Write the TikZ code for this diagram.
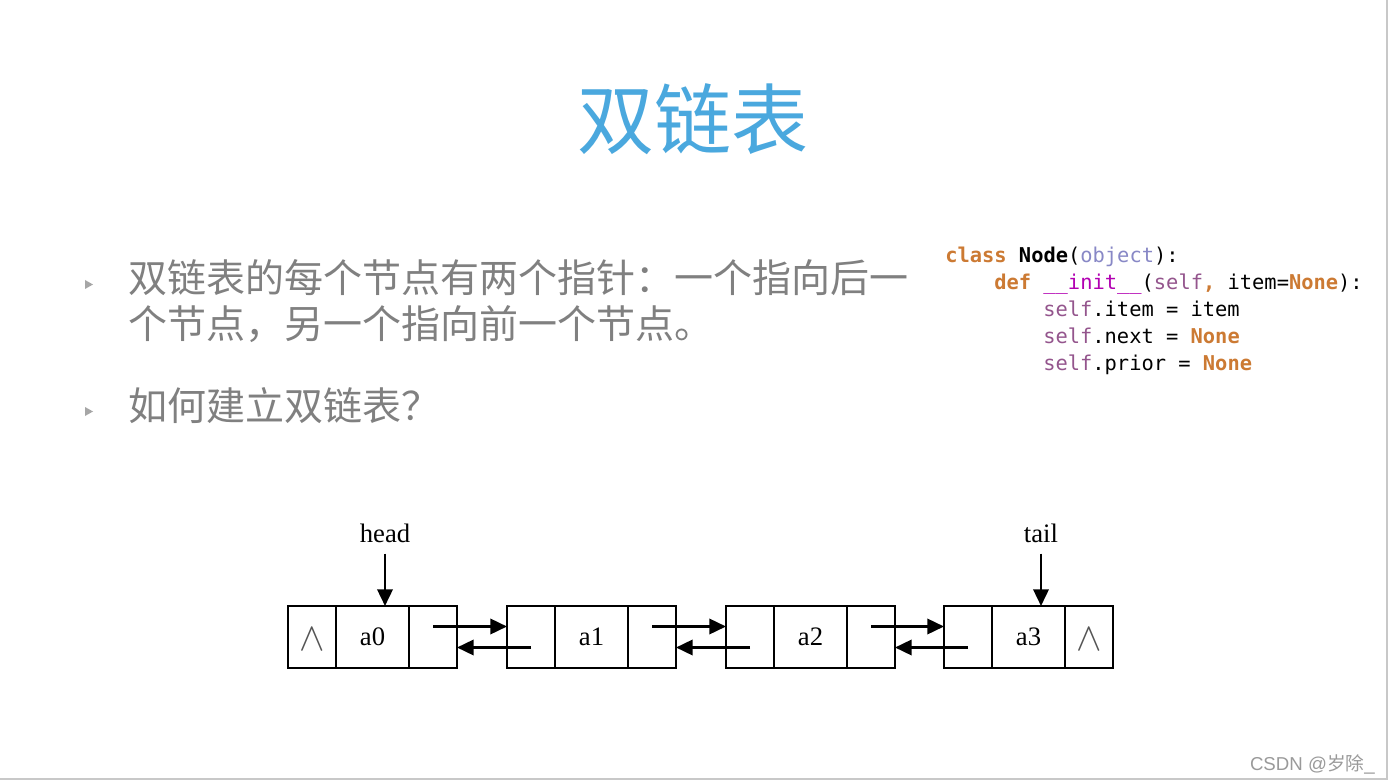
\documentclass[tikz,border=0pt]{standalone}
\usepackage{fontspec}
\usepackage{graphicx}
\setmainfont{Liberation Serif}
\newfontfamily\cjk{Noto Sans CJK SC}
\newfontfamily\codefont{DejaVu Sans Mono}
\newfontfamily\wmfont{Liberation Sans}
\usetikzlibrary{arrows.meta,calc}
\definecolor{titleblue}{HTML}{4AA8DE}
\definecolor{bodygray}{HTML}{808080}
\definecolor{kwc}{HTML}{CC7A33}
\definecolor{objc}{HTML}{8888C6}
\definecolor{magicc}{HTML}{B200B2}
\definecolor{selfc}{HTML}{94558D}
\definecolor{wmc}{HTML}{9A9A9A}
\definecolor{edgec}{HTML}{C8C8C8}
\definecolor{wedgec}{HTML}{555555}
\tikzset{
  cellbox/.style={draw, line width=1.9pt, inner sep=0pt, outer sep=0pt, minimum height=46.5pt, anchor=north west, font=\fontsize{20}{24}\selectfont},
  sidecell/.style={cellbox, minimum width=36pt},
  datacell/.style={cellbox, minimum width=54.75pt},
  ptr/.style={line width=1.9pt, -{Triangle[length=12.5pt,width=11.5pt]}},
  lbl/.style={inner sep=0pt, anchor=base, font=\fontsize{20}{24}\selectfont},
  bodytext/.style={inner sep=0pt, anchor=base west, text=bodygray, font=\cjk\fontsize{29.25}{35}\selectfont},
  codeline/.style={inner sep=0pt, anchor=base west, font=\codefont\fontsize{15.3}{18}\selectfont},
  wedgemark/.style={inner sep=0pt, text=wedgec, font=\fontsize{24}{28}\selectfont},
  bulletmark/.style={fill=bodygray!70},
}
\begin{document}
\begin{tikzpicture}[x=0.75pt,y=-0.75pt]
\useasboundingbox (0,0) rectangle (1388,780);
\fill[white] (0,0) rectangle (1388,780);
\draw[edgec, line width=1.5pt] (1386.5,0) -- (1386.5,778.5) -- (0,778.5);

% title
\node[inner sep=0pt, anchor=base, text=titleblue, font=\cjk\fontsize{57.75}{66}\selectfont] (title) at (693,149) {双链表};

% bullets
\fill[bulletmark] (85,280) -- (93,284.5) -- (85,289) -- cycle;
\fill[bulletmark] (85,407) -- (93,411.5) -- (85,416) -- cycle;
\node[bodytext] (b1a) at (128,293) {双链表的每个节点有两个指针：一个指向后一};
\node[bodytext] (b1b) at (128,339) {个节点，另一个指向前一个节点。};
\node[bodytext] (b2) at (128,421) {如何建立双链表？};

% code
\node[codeline] (c1) at (945,263) {\textcolor{kwc}{\bfseries class} \textbf{Node}(\textcolor{objc}{object}):};
\node[codeline] (c2) at (994,290) {\textcolor{kwc}{\bfseries def} \textcolor{magicc}{\_\_init\_\_}(\textcolor{selfc}{self}\textcolor{kwc}{\bfseries ,} item=\textcolor{kwc}{\bfseries None}):};
\node[codeline] (c3) at (1043,317) {\textcolor{selfc}{self}.item = item};
\node[codeline] (c4) at (1043,344) {\textcolor{selfc}{self}.next = \textcolor{kwc}{\bfseries None}};
\node[codeline] (c5) at (1043,371) {\textcolor{selfc}{self}.prior = \textcolor{kwc}{\bfseries None}};

% list nodes
\foreach \i/\x in {0/288,1/507,2/726,3/944}{
  \node[sidecell] (p\i) at (\x,606) {};
  \node[datacell] (d\i) at (\x+48,606) {a\i};
  \node[sidecell] (n\i) at (\x+121,606) {};
}
\node[wedgemark] (w0) at ($(p0.center)+(0,2)$) {\scalebox{1.15}[1.2]{$\wedge$}};
\node[wedgemark] (w3) at ($(n3.center)+(0,2)$) {\scalebox{1.15}[1.2]{$\wedge$}};

\foreach \i/\j in {0/1,1/2,2/3}{
  \draw[ptr] ($(n\i.center)+(0,-10.5)$) -- ($(p\j.west)+(0,-10.5)$);
  \draw[ptr] ($(p\j.center)+(0,10.5)$) -- ($(n\i.east)+(0,10.5)$);
}

% head / tail
\node[lbl] (head) at (385,542) {head};
\node[lbl] (tail) at (1041,542) {tail};
\draw[ptr] ($(head.south)+(0,11)$) -- (head.south |- d0.north);
\draw[ptr] ($(tail.south)+(0,11)$) -- (tail.south |- d3.north);

% watermark
\node[inner sep=0pt, anchor=base east, text=wmc, font=\fontsize{14}{17}\selectfont] (wm) at (1375,770) {\wmfont CSDN @\cjk 岁除\wmfont\_};
\end{tikzpicture}
\end{document}
